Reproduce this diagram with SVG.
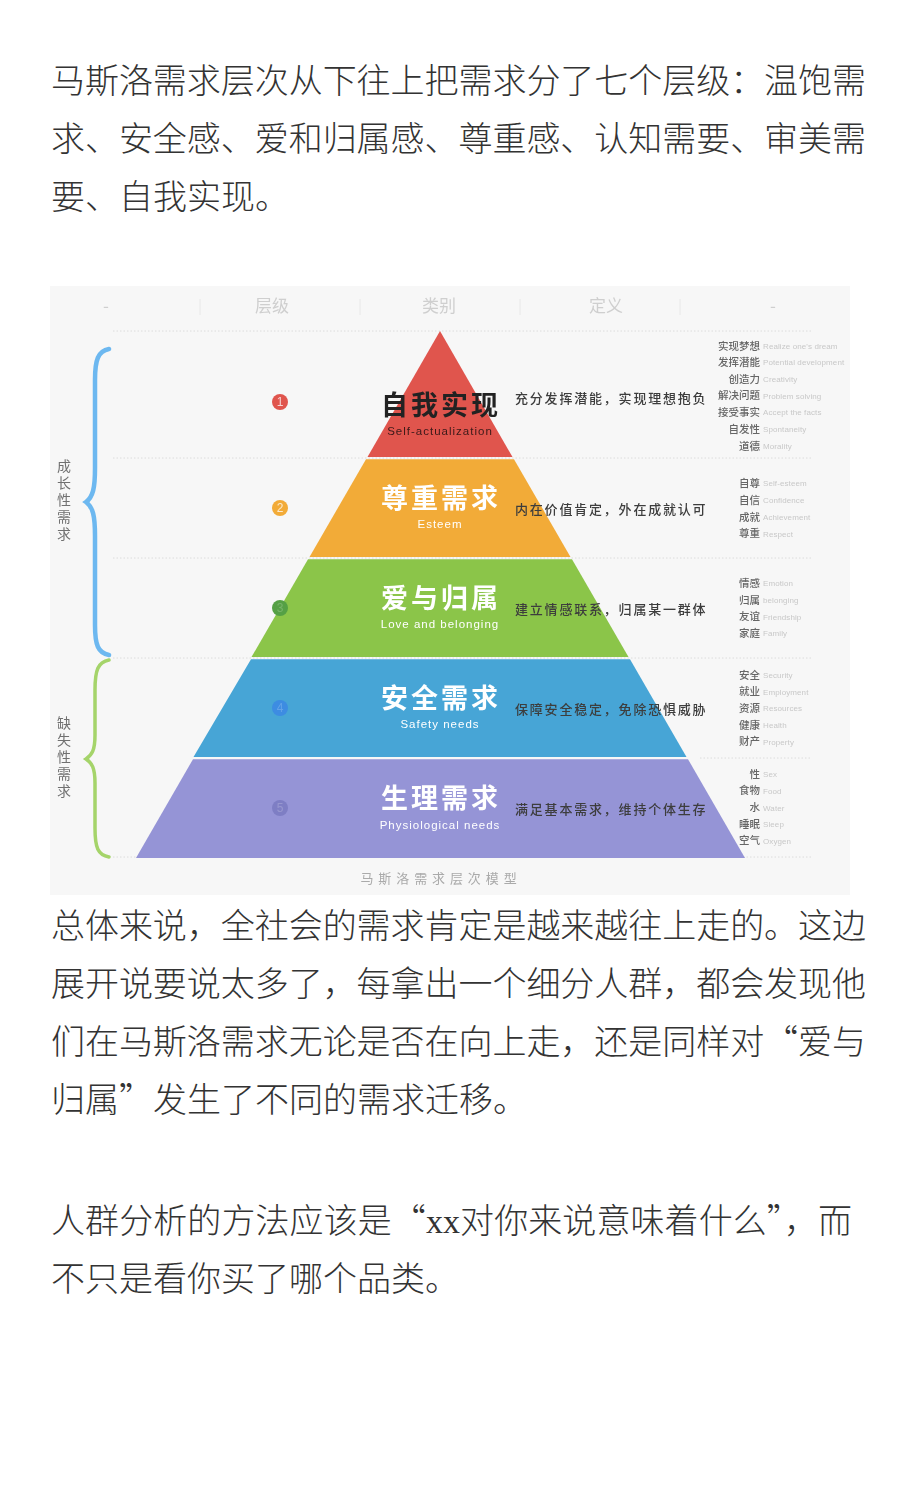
<svg xmlns="http://www.w3.org/2000/svg" width="900" height="1500" viewBox="0 0 900 1500">
<defs>
<filter id="soft" x="-2%" y="-2%" width="104%" height="104%"><feGaussianBlur stdDeviation="0.35"/></filter>
</defs>
<style>
text{font-family:"Noto Sans CJK SC","Liberation Sans",sans-serif}
.body{font-size:34px;fill:#333;font-weight:300}
.head{font-size:17px;fill:#cfcfcf;text-anchor:middle}
.sep{stroke:#e8e8e8;stroke-width:1}
.dot{stroke:#dcdcdc;stroke-width:1;stroke-dasharray:1.5 2;fill:none}
.title{font-size:27px;font-weight:700;fill:#fff;text-anchor:middle;letter-spacing:3px}
.en{font-family:"Liberation Sans",sans-serif;font-size:11.5px;fill:#fff;text-anchor:middle;letter-spacing:1px}
.def{font-size:13px;font-weight:500;fill:#3c3c3c;letter-spacing:1.8px}
.cj{font-size:10.5px;font-weight:500;fill:#666;text-anchor:end}
.eg{font-family:"Liberation Sans",sans-serif;font-size:8px;fill:#c8c8c8;letter-spacing:.1px}
.num{font-family:"Liberation Sans",sans-serif;font-size:12px;fill:#fff;text-anchor:middle;fill-opacity:.75}
.side{font-size:14px;fill:#707070;text-anchor:middle}
.brace{fill:none;stroke-width:4.5;stroke-linecap:round}
</style>
<rect width="900" height="1500" fill="#fff"/>
<g id="para1" class="body">
<text x="51" y="93" class="body" textLength="815">马斯洛需求层次从下往上把需求分了七个层级：温饱需</text>
<text x="51" y="151" class="body" textLength="815">求、安全感、爱和归属感、尊重感、认知需要、审美需</text>
<text x="51" y="209" class="body">要、自我实现。</text>
</g>
<g id="chart" filter="url(#soft)">
<rect x="50" y="286" width="800" height="609" fill="#f7f7f7"/>
<g id="header">
<text x="106" y="312" class="head">-</text><text x="272" y="312" class="head">层级</text><text x="439" y="312" class="head">类别</text><text x="606" y="312" class="head">定义</text><text x="773" y="312" class="head">-</text>
<path class="sep" d="M200 299V315M360 299V315M520 299V315M680 299V315"/>
</g>
<g id="connectors">
<path class="dot" d="M113 331H812M113 458H812M113 558H812M113 658H812M700 758H812M113 857H812"/>
<path class="brace" stroke="#6DB8F0" d="M109 349C98 351 95 360 95 380V468C95 488 93 497 86 502C93 507 95 516 95 536V625C95 645 98 653 109 655"/>
<path class="brace" stroke="#A5D46A" style="stroke-width:3.5" d="M109 660C98 662 95 670 95 690V735C95 750 92 755 86 759C92 763 95 768 95 783V828C95 848 98 855 109 857"/>
</g>
<g id="level1">
<polygon points="440,331 512.5,457 367.5,457" fill="#E0544E"/>
<circle cx="280" cy="402" r="8" fill="#E0544E"/><text x="280" y="406" class="num">1</text>
<text x="441" y="415" class="title" style="fill:#222">自我实现</text>
<text x="440" y="435" class="en" style="fill:#3a1a18">Self-actualization</text>
<text x="515" y="403" class="def">充分发挥潜能，实现理想抱负</text>
</g>
<g id="level2">
<polygon points="366,459.2 514,459.2 570.5,557 309.5,557" fill="#F2AB38"/>
<circle cx="280" cy="508" r="8" fill="#F2AB38"/><text x="280" y="512" class="num">2</text>
<text x="441" y="508" class="title">尊重需求</text>
<text x="440" y="528" class="en">Esteem</text>
<text x="515" y="514" class="def">内在价值肯定，外在成就认可</text>
</g>
<g id="level3">
<polygon points="308,559.2 572,559.2 628.5,657 251.5,657" fill="#8BC54A"/>
<circle cx="280" cy="608" r="8" fill="#55A044"/><text x="280" y="612" class="num" style="fill-opacity:.2">3</text>
<text x="441" y="608" class="title">爱与归属</text>
<text x="440" y="628" class="en">Love and belonging</text>
<text x="515" y="614" class="def">建立情感联系，归属某一群体</text>
</g>
<g id="level4">
<polygon points="251,659.2 630,659.2 686.5,757 193.5,757" fill="#46A5D6"/>
<circle cx="280" cy="708" r="8" fill="#3C8CE2"/><text x="280" y="712" class="num" style="fill-opacity:.2">4</text>
<text x="441" y="708" class="title">安全需求</text>
<text x="440" y="728" class="en">Safety needs</text>
<text x="515" y="714" class="def">保障安全稳定，免除恐惧威胁</text>
</g>
<g id="level5">
<polygon points="193,759.2 688,759.2 745,858 136,858" fill="#9594D6"/>
<circle cx="280" cy="808" r="8" fill="#7E7EC4"/><text x="280" y="812" class="num" style="fill-opacity:.2">5</text>
<text x="441" y="808" class="title">生理需求</text>
<text x="440" y="829" class="en">Physiological needs</text>
<text x="515" y="814" class="def">满足基本需求，维持个体生存</text>
</g>
<g id="groups">
<text x="64" y="471" class="side">成</text><text x="64" y="488" class="side">长</text><text x="64" y="505" class="side">性</text><text x="64" y="522" class="side">需</text><text x="64" y="539" class="side">求</text>
<text x="64" y="728" class="side">缺</text><text x="64" y="745" class="side">失</text><text x="64" y="762" class="side">性</text><text x="64" y="779" class="side">需</text><text x="64" y="796" class="side">求</text>
</g>
<g id="items">
<text x="760" y="350" class="cj">实现梦想</text><text x="763" y="349" class="eg">Realize one's dream</text>
<text x="760" y="366" class="cj">发挥潜能</text><text x="763" y="365" class="eg">Potential development</text>
<text x="760" y="383" class="cj">创造力</text><text x="763" y="382" class="eg">Creativity</text>
<text x="760" y="399" class="cj">解决问题</text><text x="763" y="399" class="eg">Problem solving</text>
<text x="760" y="416" class="cj">接受事实</text><text x="763" y="415" class="eg">Accept the facts</text>
<text x="760" y="433" class="cj">自发性</text><text x="763" y="432" class="eg">Spontaneity</text>
<text x="760" y="450" class="cj">道德</text><text x="763" y="449" class="eg">Morality</text>
<text x="760" y="487" class="cj">自尊</text><text x="763" y="486" class="eg">Self-esteem</text>
<text x="760" y="504" class="cj">自信</text><text x="763" y="503" class="eg">Confidence</text>
<text x="760" y="521" class="cj">成就</text><text x="763" y="520" class="eg">Achievement</text>
<text x="760" y="537" class="cj">尊重</text><text x="763" y="537" class="eg">Respect</text>
<text x="760" y="587" class="cj">情感</text><text x="763" y="586" class="eg">Emotion</text>
<text x="760" y="604" class="cj">归属</text><text x="763" y="603" class="eg">belonging</text>
<text x="760" y="620" class="cj">友谊</text><text x="763" y="620" class="eg">Friendship</text>
<text x="760" y="637" class="cj">家庭</text><text x="763" y="636" class="eg">Family</text>
<text x="760" y="679" class="cj">安全</text><text x="763" y="678" class="eg">Security</text>
<text x="760" y="695" class="cj">就业</text><text x="763" y="695" class="eg">Employment</text>
<text x="760" y="712" class="cj">资源</text><text x="763" y="711" class="eg">Resources</text>
<text x="760" y="729" class="cj">健康</text><text x="763" y="728" class="eg">Health</text>
<text x="760" y="745" class="cj">财产</text><text x="763" y="745" class="eg">Property</text>
<text x="760" y="778" class="cj">性</text><text x="763" y="777" class="eg">Sex</text>
<text x="760" y="794" class="cj">食物</text><text x="763" y="794" class="eg">Food</text>
<text x="760" y="811" class="cj">水</text><text x="763" y="811" class="eg">Water</text>
<text x="760" y="828" class="cj">睡眠</text><text x="763" y="827" class="eg">Sleep</text>
<text x="760" y="844" class="cj">空气</text><text x="763" y="844" class="eg">Oxygen</text>
</g>
<text id="caption" x="441" y="883" style="font-size:13px;fill:#aaa;text-anchor:middle;letter-spacing:4.9px">马斯洛需求层次模型</text>
</g>
<g id="para2" class="body">
<text x="51" y="938" class="body" textLength="815">总体来说，全社会的需求肯定是越来越往上走的。这边</text>
<text x="51" y="996" class="body" textLength="815">展开说要说太多了，每拿出一个细分人群，都会发现他</text>
<text x="51" y="1054" class="body" textLength="815">们在马斯洛需求无论是否在向上走，还是同样对“爱与</text>
<text x="51" y="1112" class="body">归属”发生了不同的需求迁移。</text>
</g>
<g id="para3" class="body">
<text x="51" y="1233" class="body" textLength="801">人群分析的方法应该是“<tspan style="font-family:'Liberation Serif',serif">xx</tspan>对你来说意味着什么”，而</text>
<text x="51" y="1291" class="body">不只是看你买了哪个品类。</text>
</g>
</svg>
